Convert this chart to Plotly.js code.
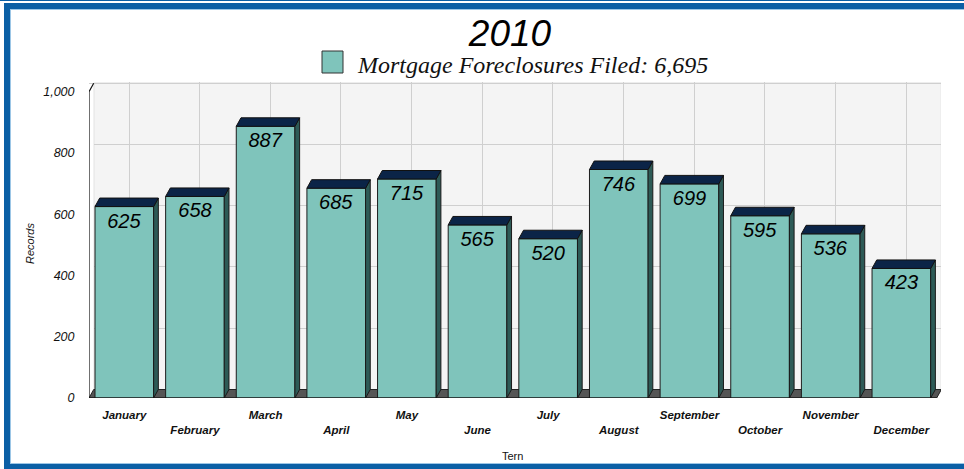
<!DOCTYPE html>
<html>
<head>
<meta charset="utf-8">
<script src="https://cdn.plot.ly/plotly-3.0.1.min.js"></script>
<style>
  html, body { margin:0; padding:0; background:#ffffff; overflow:hidden; }
  #wrap { position:relative; width:964px; height:469px; overflow:hidden; }
  #chart { position:absolute; left:0; top:0; width:964px; height:469px; }
  #frameTop { position:absolute; left:0; top:0; width:964px; height:1px; background:#0b5fa5; z-index:5; }
  #frame { position:absolute; left:4px; top:3px; width:1000px; height:467px; box-sizing:border-box;
           border:6px solid #0b5fa5; box-shadow: inset 0 0 0 1px #9cc6e6; z-index:5; pointer-events:none; }
</style>
</head>
<body>
<div id="wrap">
  <div id="chart"></div>
  <div id="frameTop"></div>
  <div id="frame"></div>
</div>
<script>
// ---- data ----
const chartTitle = '2010';
const seriesName = 'Mortgage Foreclosures Filed: 6,695';
const months = ['January','February','March','April','May','June','July','August','September','October','November','December'];
const records = [625, 658, 887, 685, 715, 565, 520, 746, 699, 595, 536, 423];
const yTicks = [0, 200, 400, 600, 800, 1000];
const xTitle = 'Tern';
const yTitle = 'Records';

// ---- geometry (pixels) ----
const W = 964, H = 469;
const L = 89, R = 941, T = 82, B = 398;
const pxPerCat = 70.64;          // pixels per category
const pxPerVal = 0.3063;         // pixels per record
const depthX = 4.7, depthY = 8.5; // 3D depth offset in pixels
const xMax = -0.5 + (R - L) / pxPerCat;
const yMax = (B - T) / pxPerVal;
const DX = depthX / pxPerCat;
const DY = depthY / pxPerVal;
const BW = 0.83;
const hw = BW / 2;
const idx = months.map((m, i) => i);
const nCat = months.length;

const px2paperX = p => (p - L) / (R - L);
const px2paperY = p => (B - p) / (B - T);

// staggered tick labels
const tickText = months.map((m, i) => (i % 2 === 1 ? '<br>' + m : m));

const shapes = [];
const xl = -0.5, xr = nCat - 0.5;
// back wall
shapes.push({type:'path', layer:'below', xref:'x', yref:'y',
  path:`M${xl+DX},${DY} L${xr+DX},${DY} L${xr+DX},${1000+DY} L${xl+DX},${1000+DY} Z`,
  fillcolor:'#f4f4f4', line:{color:'#c4c4c4', width:1}});
// left wall (covers gridlines)
shapes.push({type:'path', layer:'between', xref:'x', yref:'y',
  path:`M${xl},0 L${xl},1000 L${xl+DX},${1000+DY} L${xl+DX},${DY} Z`,
  fillcolor:'#ffffff', line:{width:0}});
// floor
shapes.push({type:'path', layer:'between', xref:'x', yref:'y',
  path:`M${xl},0 L${xr},0 L${xr+DX},${DY} L${xl+DX},${DY} Z`,
  fillcolor:'#555555', line:{color:'#222222', width:1}});
// bar side and top faces
records.forEach((v, i) => {
  const a = i - hw, b = i + hw;
  shapes.push({type:'path', layer:'above', xref:'x', yref:'y',
    path:`M${b},0 L${b},${v} L${b+DX},${v+DY} L${b+DX},${DY} Z`,
    fillcolor:'#2d5a56', line:{color:'#1a1a1a', width:1}});
  shapes.push({type:'path', layer:'above', xref:'x', yref:'y',
    path:`M${a},${v} L${b},${v} L${b+DX},${v+DY} L${a+DX},${v+DY} Z`,
    fillcolor:'#0b2447', line:{color:'#111111', width:1}});
});
// front left edge and baseline
shapes.push({type:'path', layer:'above', xref:'x', yref:'y',
  path:`M${xl},0 L${xl},1000 L${xl+DX},${1000+DY}`,
  line:{color:'#111111', width:1.2}});
shapes.push({type:'line', layer:'above', xref:'x', yref:'y',
  x0:xl, x1:xr, y0:0, y1:0, line:{color:'#111111', width:1.2}});
// legend box
shapes.push({type:'rect', xref:'paper', yref:'paper',
  x0:px2paperX(322), x1:px2paperX(343), y0:px2paperY(73), y1:px2paperY(51),
  fillcolor:'#7fc4bb', line:{color:'#333333', width:1}});

const annotations = [
  {text: seriesName, xref:'paper', yref:'paper', x:px2paperX(355), y:px2paperY(65.5),
   xanchor:'left', yanchor:'middle', showarrow:false,
   font:{family:'Liberation Serif, Times New Roman, serif', size:24, style:'italic', color:'#111111'}},
  {text: yTitle, xref:'paper', yref:'paper', x:px2paperX(30), y:px2paperY(244),
   xanchor:'center', yanchor:'middle', textangle:-90, showarrow:false,
   font:{family:'Liberation Sans, Arial, sans-serif', size:11, style:'italic', color:'#111111'}},
  {text: xTitle, xref:'paper', yref:'paper', x:px2paperX(512), y:px2paperY(456),
   xanchor:'center', yanchor:'middle', showarrow:false,
   font:{family:'Liberation Sans, Arial, sans-serif', size:11, color:'#111111'}}
];

const traces = [
  {type:'bar', x: idx, y: records, width: BW, name: seriesName,
   marker:{color:'#7fc4bb', line:{color:'#1c1c1c', width:1}},
   text: records.map(v => String(v)), textposition:'inside', insidetextanchor:'end',
   textangle:0, constraintext:'none',
   insidetextfont:{family:'Liberation Sans, Arial, sans-serif', size:20, style:'italic', color:'#000000'},
   hoverinfo:'skip', cliponaxis:false, showlegend:false},
  {type:'scatter', x:[null], y:[null], xaxis:'x2', yaxis:'y2', hoverinfo:'skip', showlegend:false}
];

const layout = {
  width: W, height: H,
  margin:{l:L, r:W - R, t:T, b:H - B, pad:0},
  paper_bgcolor:'rgba(0,0,0,0)', plot_bgcolor:'#ffffff',
  showlegend:false,
  title:{text: chartTitle, x: 510 / W, xanchor:'center', y: 1 - 33 / H, yanchor:'middle', yref:'container',
    font:{family:'Liberation Sans Narrow, Liberation Sans, Arial, sans-serif', size:37, style:'italic', color:'#000000'}},
  xaxis:{range:[-0.5, xMax], tickmode:'array', tickvals: idx, ticktext: tickText,
    showgrid:false, zeroline:false, showline:false, ticks:'outside', ticklen:6, tickcolor:'rgba(0,0,0,0)',
    tickfont:{family:'Liberation Sans, Arial, sans-serif', size:11.5, weight:'bold', style:'italic', color:'#111111'},
    fixedrange:true},
  yaxis:{range:[0, yMax], tickmode:'array', tickvals: yTicks, tickformat:',d',
    showgrid:false, zeroline:false, showline:false, ticks:'outside', ticklen:11, tickcolor:'rgba(0,0,0,0)',
    tickfont:{family:'Liberation Sans, Arial, sans-serif', size:12.5, style:'italic', color:'#111111'},
    fixedrange:true},
  xaxis2:{overlaying:'x', anchor:'y2', range:[-0.5 - DX, xMax - DX], tickmode:'array', tickvals: idx,
    showgrid:true, gridcolor:'#cfcfcf', gridwidth:1, showticklabels:false, ticks:'', zeroline:false, showline:false, fixedrange:true},
  yaxis2:{overlaying:'y', anchor:'x2', range:[-DY, yMax - DY], tickmode:'array', tickvals: yTicks,
    showgrid:true, gridcolor:'#cfcfcf', gridwidth:1, showticklabels:false, ticks:'', zeroline:false, showline:false, fixedrange:true},
  shapes: shapes,
  annotations: annotations
};

Plotly.newPlot('chart', traces, layout, {staticPlot:true, displayModeBar:false});
</script>
</body>
</html>
